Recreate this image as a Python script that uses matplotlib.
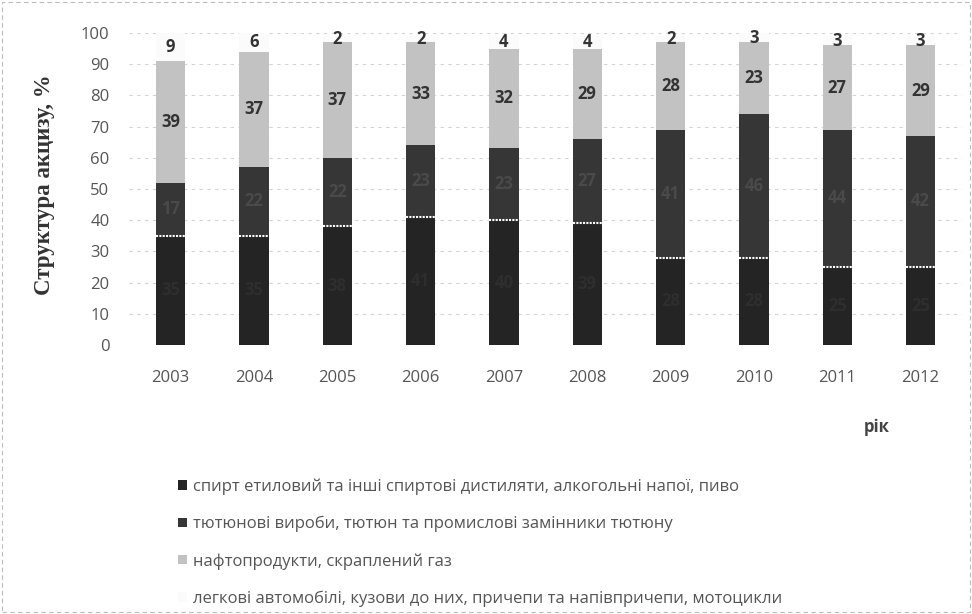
import matplotlib
matplotlib.use("Agg")
import matplotlib.pyplot as plt
from matplotlib.patches import Rectangle
import numpy as np

years = ["2003", "2004", "2005", "2006", "2007", "2008", "2009", "2010", "2011", "2012"]
spirit = [35, 35, 38, 41, 40, 39, 28, 28, 25, 25]
tobacco = [17, 22, 22, 23, 23, 27, 41, 46, 44, 42]
fuel = [39, 37, 37, 33, 32, 29, 28, 23, 27, 29]
cars = [9, 6, 2, 2, 4, 4, 2, 3, 3, 3]
series_names = [
    "спирт етиловий та інші спиртові дистиляти, алкогольні напої, пиво",
    "тютюнові вироби, тютюн та промислові замінники тютюну",
    "нафтопродукти, скраплений газ",
    "легкові автомобілі, кузови до них, причепи та напівпричепи, мотоцикли",
]
y_ticks = [0, 10, 20, 30, 40, 50, 60, 70, 80, 90, 100]

plt.rcParams['font.family'] = ['Open Sans', 'DejaVu Sans']

fig = plt.figure(figsize=(9.72, 6.14), dpi=100)
ax = fig.add_axes([0.1327, 0.4381, 0.8573, 0.5082])

x = np.arange(len(years))
data = [spirit, tobacco, fuel, cars]
colors = ["#242424", "#363636", "#c2c2c2", "#fbfbfb"]
label_colors = ["#2e2e2e", "#4a4a4a", "#333333", "#333333"]
width = 0.35
bottom = np.zeros(len(years))
for i, (vals, col) in enumerate(zip(data, colors)):
    vals = np.array(vals, dtype=float)
    ax.bar(x, vals, width, bottom=bottom, color=col, zorder=3,
           edgecolor="none", label=series_names[i])
    for xi, b, v in zip(x, bottom, vals):
        ax.text(xi, b + v / 2, f"{int(v)}", ha="center", va="center",
                fontsize=12, fontweight="bold", color=label_colors[i], zorder=4)
    if i == 0:
        ax.hlines(bottom + vals, x - width / 2, x + width / 2, colors="white",
                  linewidth=1.5, linestyles=(0, (1, 0.6)), zorder=4)
    bottom = bottom + vals

ax.set_xlim(-0.5, len(years) - 0.5)
ax.set_ylim(0, 100)
ax.set_yticks(y_ticks)
ax.set_xticks(x)
ax.set_xticklabels(years)
ax.tick_params(axis="both", length=0, labelsize=12, colors="#555555")
ax.tick_params(axis="x", pad=18)
ax.tick_params(axis="y", pad=14)
for s in ax.spines.values():
    s.set_visible(False)
ax.grid(axis="y", color="#d4d4d4", linestyle=(0, (3, 4)), linewidth=0.8, zorder=0)

fig.text(0.046, 0.70, "Структура акцизу, %", rotation=90, ha="center", va="center",
         fontsize=16.5, fontweight="bold", family=["Liberation Serif", "DejaVu Serif"],
         color="#333333")
fig.text(0.902, 0.305, "рік", ha="center", va="center", fontsize=12,
         fontweight="bold", color="#444444")

handles, labels = ax.get_legend_handles_labels()
leg = fig.legend(handles, labels, loc="upper left", bbox_to_anchor=(0.168, 0.245),
                 frameon=False, fontsize=12, labelspacing=1.25, handlelength=0.5,
                 handleheight=0.5, handletextpad=0.4, labelcolor="#555555")

fig.patches.append(Rectangle((0.002, 0.003), 0.996, 0.994, transform=fig.transFigure,
                             fill=False, edgecolor="#bbbbbb", linewidth=0.8,
                             linestyle=(0, (4, 3))))

fig.savefig("out.png", dpi=100)
